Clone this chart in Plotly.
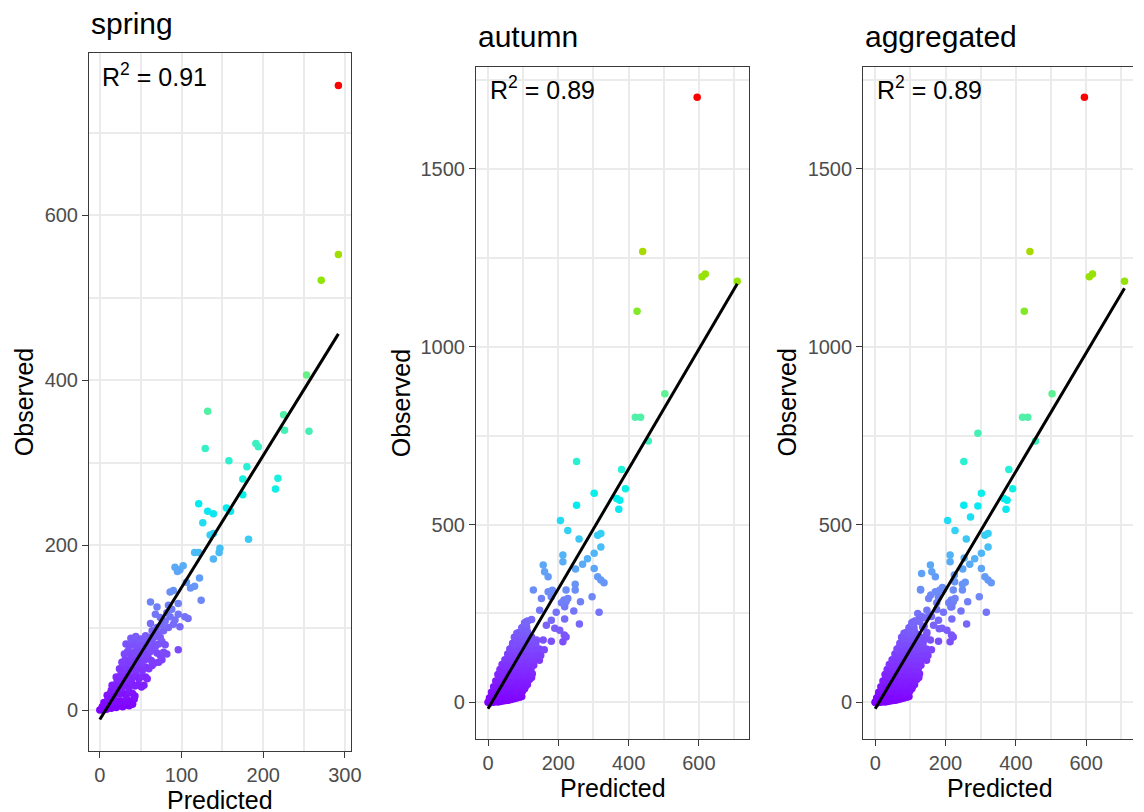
import plotly.graph_objects as go

# The page adds an 8px body margin, so the figure is placed 8px in from the
# window's top-left corner; layout pixels below are window pixels minus OFF.
OFF = 8
W, H = 1144 - OFF, 812 - OFF

# ---------------- data (Predicted, Observed) ----------------
spring_points = [
    (292, 757), (292, 552), (271, 521), (253, 406), (132, 362), (225, 358), (226, 339), (256, 338),
    (191, 323), (194, 319), (129, 317), (158, 302), (180, 295), (175, 280), (218, 281), (215, 268),
    (175, 261), (121, 250), (155, 245), (160, 241), (132, 241), (139, 238), (126, 227), (135, 212),
    (139, 214), (182, 207), (116, 191), (121, 191), (147, 196), (146, 191), (139, 183),
    (92, 173), (98, 170), (102, 175), (95, 168), (122, 160), (116, 150), (111, 148), (106, 155),
    (124, 133), (86, 143), (90, 145), (62, 131), (70, 125), (68, 116), (84, 127), (96, 129),
    (96, 116), (104, 113), (108, 111), (62, 105), (98, 101), (86, 113), (92, 109), (96, 73),
    (64, 96), (70, 100), (76, 104), (80, 108), (74, 112), (82, 118), (88, 122), (78, 96),
    (84, 100), (90, 104), (72, 92), (66, 88),
    (0, 0), (2, 1), (4, 0), (6, 2), (8, 1), (11, 3), (14, 2), (17, 4), (20, 3), (24, 5), (28, 4),
    (32, 6), (36, 5), (40, 7), (3, 4), (7, 6),
    (5, 9), (9, 8), (12, 10), (15, 9), (18, 12), (22, 10), (26, 11), (30, 9), (34, 12), (38, 10),
    (42, 13), (10, 14), (40, 8),
    (9, 18), (13, 20), (16, 17), (20, 22), (24, 19), (28, 21), (32, 18), (36, 22), (40, 20),
    (43, 17), (14, 24), (18, 25),
    (15, 30), (19, 28), (23, 32), (27, 27), (31, 30), (35, 28), (39, 33), (43, 29), (47, 31),
    (51, 28), (54, 30), (21, 34),
    (20, 40), (24, 38), (28, 42), (32, 37), (36, 41), (40, 39), (44, 43), (48, 38), (52, 41),
    (56, 40), (58, 38), (26, 44),
    (24, 50), (28, 48), (32, 52), (36, 47), (40, 51), (44, 49), (48, 53), (52, 48), (56, 52),
    (60, 50), (64, 54), (30, 54),
    (27, 58), (31, 61), (35, 57), (39, 62), (43, 59), (47, 63), (51, 58), (55, 61), (59, 64),
    (63, 60), (67, 57), (72, 58), (76, 61),
    (30, 68), (34, 71), (38, 66), (42, 70), (46, 73), (50, 68), (54, 72), (58, 67), (62, 71),
    (66, 74), (70, 69), (74, 66), (78, 70), (82, 68),
    (32, 80), (36, 77), (40, 82), (44, 78), (48, 83), (52, 79), (56, 84), (60, 78), (64, 82),
    (68, 77), (72, 80), (76, 83), (80, 79),
    (38, 87), (44, 89), (50, 86), (56, 90), (62, 88), (68, 92), (74, 88),
]

autumn_points = [
    (595, 1702), (440, 1268), (609, 1197), (618, 1205), (709, 1184), (424, 1100), (503, 868),
    (419, 802), (434, 802), (456, 735), (252, 677), (380, 655), (391, 601), (302, 588),
    (366, 573), (375, 568), (372, 543), (252, 554), (206, 511), (227, 483), (259, 459),
    (312, 470), (321, 475), (321, 437), (302, 419), (283, 404), (269, 388), (249, 375),
    (213, 414), (213, 395), (157, 386), (161, 367), (171, 353), (302, 376), (312, 353),
    (321, 344), (330, 336), (248, 332), (129, 316), (152, 292), (180, 297), (222, 316),
    (216, 288), (222, 283), (218, 269), (248, 316), (263, 283), (296, 297), (316, 253),
    (194, 253), (218, 234), (260, 220), (180, 231), (166, 217), (171, 311), (183, 315),
    (227, 292), (209, 280), (244, 257), (147, 259), (113, 229), (124, 233), (190, 208),
    (204, 203), (217, 189), (222, 184), (213, 170), (180, 172), (157, 175), (75, 183),
    (82, 194), (124, 184), (138, 175), (96, 203), (110, 211), (110, 227),
    (0, 0), (5, -2), (10, 2), (16, 0), (22, 3), (28, 1), (35, 2), (42, 4), (50, 5), (58, 6),
    (66, 8), (74, 10), (82, 12), (90, 14), (96, 16),
    (4, 12), (10, 18), (18, 14), (26, 16), (34, 12), (42, 18), (50, 15), (58, 20), (66, 17),
    (76, 22), (86, 24),
    (10, 28), (18, 32), (26, 27), (34, 33), (42, 29), (50, 34), (58, 28), (66, 32), (74, 36),
    (82, 30), (90, 34), (98, 31), (104, 38),
    (16, 44), (24, 48), (32, 42), (40, 47), (48, 43), (56, 49), (64, 45), (72, 50), (80, 44),
    (88, 48), (96, 46), (106, 44), (112, 50),
    (22, 60), (30, 64), (38, 58), (46, 63), (54, 59), (62, 64), (70, 60), (78, 65), (86, 58),
    (94, 62), (102, 66), (110, 60), (118, 64), (124, 70),
    (28, 78), (36, 74), (44, 79), (52, 75), (60, 80), (68, 76), (76, 81), (84, 74), (92, 79),
    (100, 76), (108, 82), (116, 77), (126, 80),
    (34, 92), (42, 88), (50, 94), (58, 89), (66, 95), (74, 90), (82, 96), (90, 88), (98, 94),
    (106, 90), (114, 96), (122, 92),
    (40, 106), (48, 102), (56, 108), (64, 104), (72, 109), (80, 103), (88, 108), (96, 104),
    (104, 110), (112, 105), (120, 108), (130, 104),
    (48, 120), (56, 124), (64, 118), (72, 123), (80, 119), (88, 125), (96, 120), (104, 124),
    (112, 118), (120, 123), (128, 119), (138, 122), (146, 118),
    (56, 136), (64, 132), (70, 138), (78, 134), (86, 139), (94, 133), (102, 137), (110, 132),
    (118, 138), (126, 134), (136, 136), (150, 132),
    (62, 150), (68, 154), (76, 148), (84, 153), (92, 149), (100, 155), (108, 150), (116, 154),
    (124, 148), (134, 152), (146, 150), (160, 148),
    (70, 166), (76, 162), (82, 168), (90, 164), (98, 169), (106, 163), (114, 167), (124, 163),
    (136, 166),
    (80, 180), (86, 184), (92, 178), (98, 183), (104, 179), (112, 184), (120, 178),
    (88, 196), (94, 192), (100, 198), (106, 194), (112, 199),
    (96, 210), (102, 214), (108, 208),
    (104, 224), (108, 220),
]

aggregated_points = spring_points + autumn_points

panel_titles = ["spring", "autumn", "aggregated"]
r2_values = ["0.91", "0.89", "0.89"]
fit_intercepts = [-11.6, -18.0, -18.0]
fit_slopes = [1.601, 1.686, 1.668]

colorscale = [
    [0.00, "#8000FF"], [0.06, "#8030FF"], [0.12, "#7A5EFA"], [0.18, "#6E8AF7"],
    [0.24, "#55B2F6"], [0.29, "#2CD6F4"], [0.33, "#00EEF0"], [0.39, "#28F0D6"],
    [0.46, "#4CF0AE"], [0.53, "#64F08A"], [0.61, "#78EC48"], [0.68, "#8CE60A"],
    [0.74, "#A6DC00"], [0.85, "#E0B800"], [0.93, "#FF6A00"], [1.00, "#FF0000"],
]

# ---------------- layout geometry (window pixels) ----------------
panels = [
    dict(x0=90, x1=354, y0=53, y1=751, xr=[-13.0, 307.0], yr=[-49.7, 796.4], xd=100, yd=200, right=True),
    dict(x0=480.7, x1=756.7, y0=66.7, y1=739, xr=[-33.8, 743.7], yr=[-103.2, 1787.7], xd=200, yd=500, right=True),
    dict(x0=871.7, x1=1144, y0=66.7, y1=739, xr=[-33.8, 733.2], yr=[-103.2, 1787.7], xd=200, yd=500, right=False),
]
datasets = [spring_points, autumn_points, aggregated_points]


def px(v):
    return (v - OFF) / W


def py(v):
    return 1 - (v - OFF) / H


FONT = "Liberation Sans, Arial, sans-serif"
fig = go.Figure()
annotations = []
layout = {}

for i, (p, pts) in enumerate(zip(panels, datasets)):
    sfx = "" if i == 0 else str(i + 1)
    xs = [a for a, b in pts]
    ys = [b for a, b in pts]
    fig.add_trace(go.Scatter(
        x=xs, y=ys, mode="markers", xaxis="x" + sfx, yaxis="y" + sfx,
        marker=dict(size=7.5, color=ys, colorscale=colorscale, cmin=0, cmax=max(ys),
                    line=dict(width=0)),
        showlegend=False, hoverinfo="x+y",
    ))
    lx = [min(xs), max(xs)]
    ly = [fit_intercepts[i] + fit_slopes[i] * v for v in lx]
    fig.add_trace(go.Scatter(
        x=lx, y=ly, mode="lines", xaxis="x" + sfx, yaxis="y" + sfx,
        line=dict(color="black", width=3), showlegend=False, hoverinfo="skip",
    ))
    common = dict(
        showgrid=True, gridcolor="#EBEBEB", gridwidth=1.8, zeroline=False,
        showline=True, linecolor="#3A3A3A", linewidth=1.4,
        ticks="outside", ticklen=6, tickwidth=1.4, tickcolor="#3A3A3A",
        tickfont=dict(family=FONT, size=20, color="#4D4D4D"),
        tickmode="linear", tick0=0,
    )
    layout["xaxis" + sfx] = dict(
        common, domain=[px(p["x0"]), min(1.0, px(p["x1"]))], range=p["xr"], dtick=p["xd"],
        anchor="y" + sfx, mirror=True,
        minor=dict(dtick=p["xd"] / 2, tick0=0, showgrid=True, gridcolor="#EBEBEB", gridwidth=1.6, ticks=""),
    )
    layout["yaxis" + sfx] = dict(
        common, domain=[py(p["y1"]), py(p["y0"])], range=p["yr"], dtick=p["yd"],
        anchor="x" + sfx, mirror=p["right"],
        minor=dict(dtick=p["yd"] / 2, tick0=0, showgrid=True, gridcolor="#EBEBEB", gridwidth=1.6, ticks=""),
    )
    # panel title
    ty = 23.1 if i == 0 else 36.3
    annotations.append(dict(text=panel_titles[i], x=px(p["x0"]), y=py(ty), xref="paper", yref="paper",
                            xanchor="left", yanchor="middle", showarrow=False,
                            font=dict(family=FONT, size=30, color="black")))
    # x title
    cx = (p["x0"] + (1147.7 if i == 2 else p["x1"])) / 2
    xt = 800.3 if i == 0 else 787.8
    annotations.append(dict(text="Predicted", x=px(cx), y=py(xt), xref="paper", yref="paper",
                            xanchor="center", yanchor="middle", showarrow=False,
                            font=dict(family=FONT, size=25, color="black")))
    # y title
    ox = [24.3, 404.3, 794.3][i]
    oy = (p["y0"] + p["y1"]) / 2
    annotations.append(dict(text="Observed", x=px(ox), y=py(oy), xref="paper", yref="paper",
                            xanchor="center", yanchor="middle", textangle=-90, showarrow=False,
                            font=dict(family=FONT, size=25, color="black")))
    # R^2
    ry = 74.6 if i == 0 else 88.0
    annotations.append(dict(text="R<sup>2</sup> = " + r2_values[i], x=0, xref="x" + sfx,
                            y=py(ry), yref="paper", xanchor="left", yanchor="middle",
                            showarrow=False, font=dict(family=FONT, size=25, color="black")))

fig.update_layout(
    width=W, height=H, margin=dict(l=0, r=0, t=0, b=0, pad=0),
    paper_bgcolor="white", plot_bgcolor="white",
    annotations=annotations, **layout,
)

fig.write_html("out.html")
